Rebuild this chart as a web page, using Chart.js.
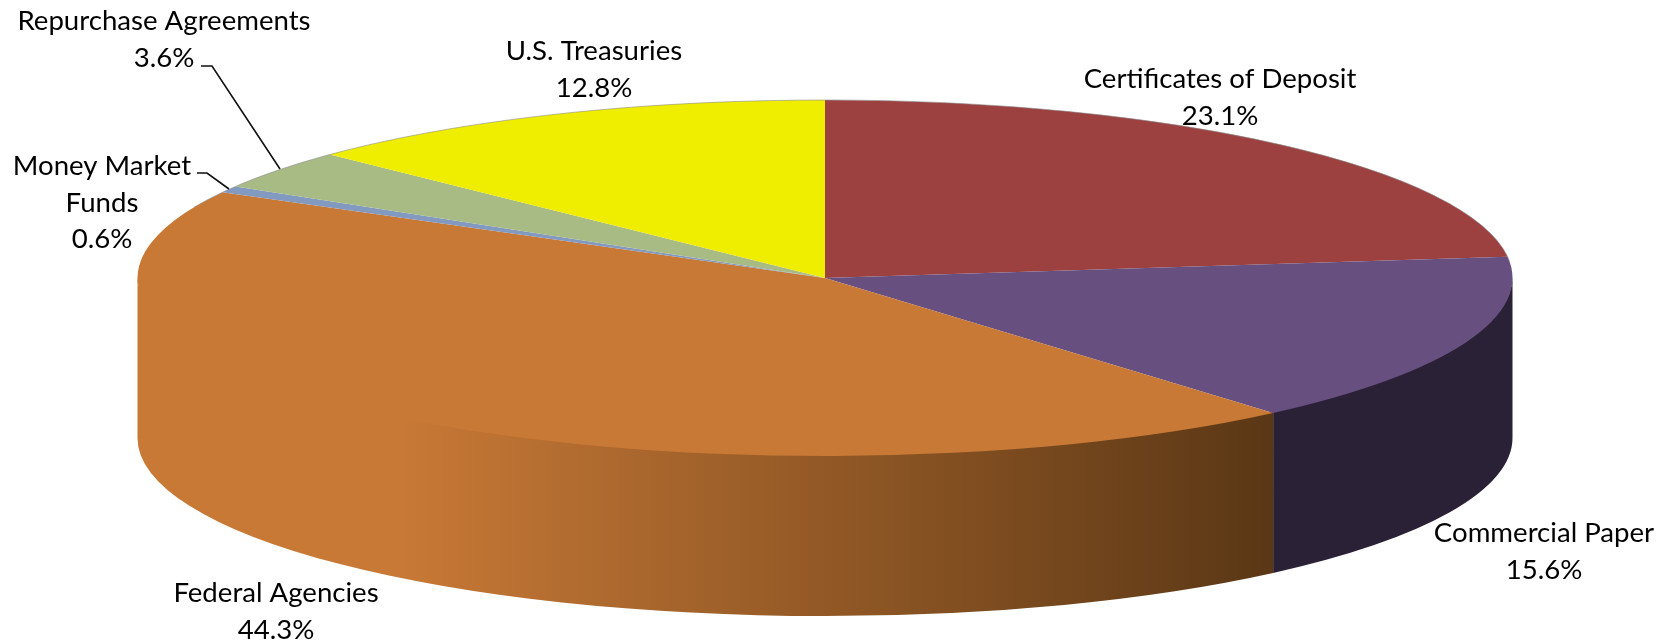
<!DOCTYPE html>
<html>
<head>
<meta charset="utf-8">
<title>Portfolio composition</title>
<script src="https://cdn.jsdelivr.net/npm/chart.js@4"></script>
<style>
  html, body { margin: 0; padding: 0; background: #fff; }
  canvas { display: block; }
</style>
</head>
<body>
<canvas id="myChart" width="1676" height="642"></canvas>
<script>
const categories = ['Certificates of Deposit', 'Commercial Paper', 'Federal Agencies', ['Money Market', 'Funds'], 'Repurchase Agreements', 'U.S. Treasuries'];
const shares = [23.1, 15.6, 44.3, 0.6, 3.6, 12.8];
const topColors = ['#9C4040', '#674F80', '#C87936', '#8299C0', '#A9BB85', '#F0EE00'];

// label centre and first baseline, same order as categories
const labelSpots = [[1220, 88], [1544, 542], [276, 602], [102, 175], [164, 30], [594, 60]];
const leaders = [
  [[197, 173], [207, 173], [229, 189]],
  [[201, 66], [212, 66], [280, 169]],
];

const squashX = 687.5 / 178;
const depth = 160;

const pie3d = {
  id: 'pie3d',
  beforeDatasetsDraw(chart) {
    const ctx = chart.ctx;
    const arcs = chart.getDatasetMeta(0).data;
    const cx = arcs[0].x;
    const cy = arcs[0].y;
    const ry = arcs[0].outerRadius;
    const rx = ry * squashX;

    // side wall, only the front half of the ellipse shows
    const endX = cx + rx * Math.cos(arcs[1].endAngle);
    const fade = ctx.createLinearGradient(cx - rx, 0, endX, 0);
    fade.addColorStop(0, '#C87936');
    fade.addColorStop(0.23, '#C87936');
    fade.addColorStop(1, '#5A3715');
    const wallFills = { 1: '#2B2136', 2: fade };

    Object.keys(wallFills).forEach((i) => {
      const a0 = Math.max(arcs[i].startAngle, 0);
      const a1 = Math.min(arcs[i].endAngle, Math.PI);
      ctx.beginPath();
      // top edge tucked under the face so no seam shows
      ctx.ellipse(cx, cy - 2, rx, ry, 0, a0, a1, false);
      ctx.ellipse(cx, cy + depth, rx, ry, 0, a1, a0, true);
      ctx.closePath();
      ctx.fillStyle = wallFills[i];
      ctx.fill();
    });

    // squash the round pie into the tilted top face
    ctx.save();
    ctx.translate(cx, cy);
    ctx.scale(squashX, 1);
    ctx.translate(-cx, -cy);
  },
  afterDatasetsDraw(chart) {
    const ctx = chart.ctx;
    ctx.restore();

    // faint grey rim along the back edge
    const arc = chart.getDatasetMeta(0).data[0];
    ctx.save();
    ctx.beginPath();
    ctx.ellipse(arc.x, arc.y, arc.outerRadius * squashX, arc.outerRadius, 0, Math.PI * 1.13, Math.PI * 1.97);
    ctx.strokeStyle = 'rgba(140, 140, 140, 0.6)';
    ctx.lineWidth = 1;
    ctx.stroke();
    ctx.restore();
  },
  afterDraw(chart) {
    const ctx = chart.ctx;
    ctx.save();
    ctx.font = '27.6px Lato';
    ctx.fillStyle = '#000';
    ctx.textAlign = 'center';
    categories.forEach((name, i) => {
      const lines = [].concat(name, shares[i].toFixed(1) + '%');
      lines.forEach((line, j) => {
        ctx.fillText(line, labelSpots[i][0], labelSpots[i][1] + j * 36.5);
      });
    });
    ctx.strokeStyle = '#111';
    ctx.lineWidth = 1.6;
    leaders.forEach((pts) => {
      ctx.beginPath();
      pts.forEach((p, k) => (k ? ctx.lineTo(p[0], p[1]) : ctx.moveTo(p[0], p[1])));
      ctx.stroke();
    });
    ctx.restore();
  },
};

const myChart = new Chart(document.getElementById('myChart'), {
  type: 'pie',
  data: {
    labels: categories,
    datasets: [{ data: shares, backgroundColor: topColors, borderWidth: 0 }],
  },
  options: {
    responsive: false,
    devicePixelRatio: 1,
    animation: false,
    layout: { padding: { left: 647, right: 673, top: 100, bottom: 186 } },
    plugins: { legend: { display: false }, tooltip: { enabled: false } },
  },
  plugins: [pie3d],
});
</script>
</body>
</html>
